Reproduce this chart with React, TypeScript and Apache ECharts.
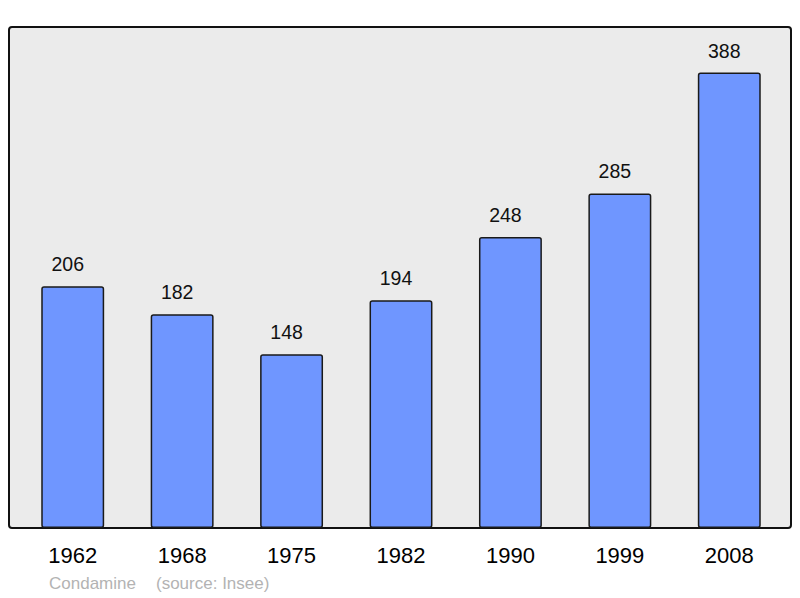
import React, { useEffect, useRef } from 'react'
import * as echarts from 'echarts'

const years = ['1962', '1968', '1975', '1982', '1990', '1999', '2008']
const population = [206, 182, 148, 194, 248, 285, 388]
const placeName = 'Condamine'
const sourceNote = '(source: Insee)'

const FONT = '"Liberation Sans", Arial, sans-serif'

const App: React.FC = () => {
  const chartRef = useRef<HTMLDivElement>(null)

  useEffect(() => {
    if (!chartRef.current) return
    const chart = echarts.init(chartRef.current, undefined, { renderer: 'svg' })

    const option: echarts.EChartsOption = {
      animation: false,
      backgroundColor: '#ffffff',
      textStyle: { fontFamily: FONT },
      // plot frame behind the bars
      graphic: [
        {
          type: 'rect',
          z: -10,
          silent: true,
          shape: { x: 9, y: 27, width: 782, height: 501, r: 3 },
          style: { fill: '#ebebeb', stroke: '#111', lineWidth: 2 },
        },
        {
          type: 'text',
          left: 49,
          top: 575,
          silent: true,
          style: { text: placeName, fill: '#b3b3b3', fontSize: 17, fontFamily: FONT },
        },
        {
          type: 'text',
          left: 156,
          top: 575,
          silent: true,
          style: { text: sourceNote, fill: '#b3b3b3', fontSize: 17, fontFamily: FONT },
        },
      ],
      grid: {
        left: 18,
        right: 16,
        top: 27,
        bottom: 70,
        containLabel: false,
      },
      xAxis: {
        type: 'category',
        data: years,
        axisLine: { show: false },
        axisTick: { show: false },
        axisLabel: {
          color: '#000',
          fontSize: 22,
          margin: 16,
          fontFamily: FONT,
        },
      },
      yAxis: {
        type: 'value',
        min: 0,
        max: 426.8,
        show: false,
        splitLine: { show: false },
      },
      series: [
        {
          type: 'bar',
          data: population,
          barWidth: '57.5%',
          itemStyle: {
            color: '#6f96ff',
            borderColor: '#1a1a1a',
            borderWidth: 1.5,
            borderRadius: 2,
          },
          label: {
            show: true,
            position: 'top',
            distance: 12,
            offset: [-5, 0],
            color: '#111',
            fontSize: 19.5,
            fontFamily: FONT,
          },
        },
      ],
    }

    chart.setOption(option)

    return () => {
      chart.dispose()
    }
  }, [])

  return (
    <div
      ref={chartRef}
      style={{ position: 'fixed', left: 0, top: 0, width: '800px', height: '598px' }}
    />
  )
}

export default App
